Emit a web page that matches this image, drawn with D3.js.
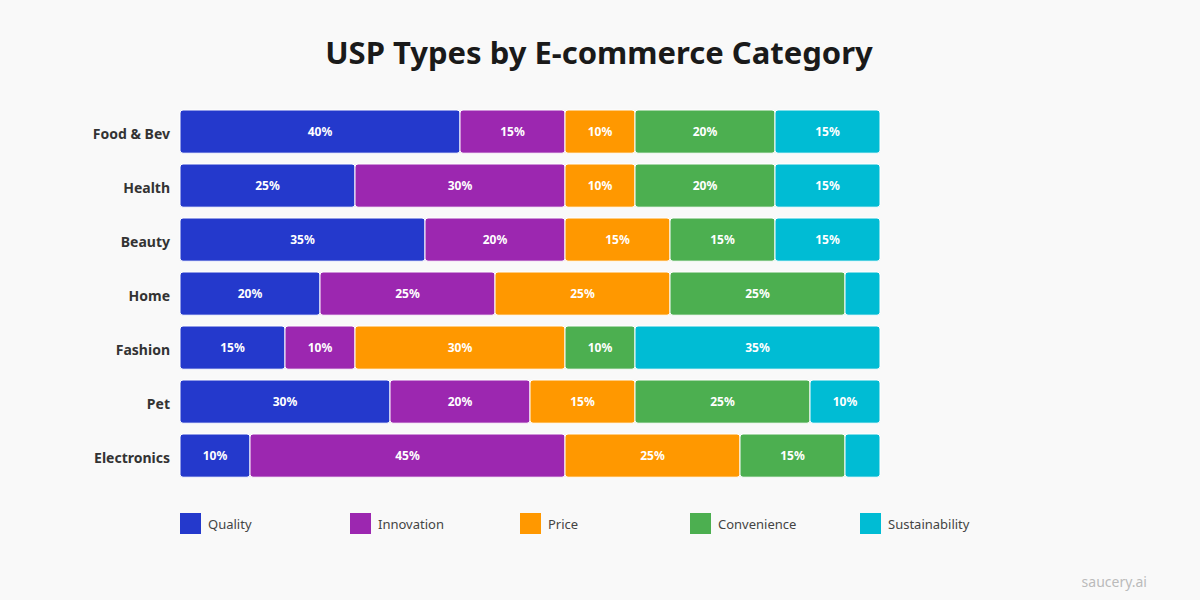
<!DOCTYPE html>
<html lang="en">
<head>
<meta charset="UTF-8">
<title>USP Types by E-commerce Category</title>
<script src="https://d3js.org/d3.v7.min.js"></script>
<style>
  body { margin: 0; background: #f9f9f9; }
  svg { display: block; font-family: "Noto Sans", "Open Sans", sans-serif; }
</style>
</head>
<body>
<svg width="1200" height="600"></svg>
<script>
const categories = ["Food & Bev", "Health", "Beauty", "Home", "Fashion", "Pet", "Electronics"];
const uspTypes = ["Quality", "Innovation", "Price", "Convenience", "Sustainability"];
const quality        = [40, 25, 35, 20, 15, 30, 10];
const innovation     = [15, 30, 20, 25, 10, 20, 45];
const price          = [10, 10, 15, 25, 30, 15, 25];
const convenience    = [20, 20, 15, 25, 10, 25, 15];
const sustainability = [15, 15, 15,  5, 35, 10,  5];
const colors = ["#2439cc", "#9c27b0", "#ff9800", "#4caf50", "#00bcd4"];

const series = [quality, innovation, price, convenience, sustainability];
const table = categories.map((c, i) => {
  const row = { category: c };
  uspTypes.forEach((t, j) => row[t] = series[j][i]);
  return row;
});

const svg = d3.select("svg");
svg.append("rect").attr("width", 1200).attr("height", 600).attr("fill", "#f9f9f9");

svg.append("text")
   .attr("x", 599).attr("y", 64)
   .attr("text-anchor", "middle")
   .attr("font-size", 31).attr("font-weight", 700)
   .attr("fill", "#1a1a1a")
   .text("USP Types by E-commerce Category");

const x = d3.scaleLinear().domain([0, 100]).range([180, 880]);
const y = d3.scaleBand().domain(categories).range([104.6, 482.6])
            .paddingInner(0.2).paddingOuter(0.1);
const color = d3.scaleOrdinal().domain(uspTypes).range(colors);

const stacked = d3.stack().keys(uspTypes)(table);

const layers = svg.append("g").selectAll("g")
  .data(stacked).enter().append("g")
  .attr("fill", d => color(d.key));

layers.selectAll("rect")
  .data(d => d).enter().append("rect")
  .attr("x", d => x(d[0]))
  .attr("y", d => y(d.data.category))
  .attr("width", d => x(d[1]) - x(d[0]))
  .attr("height", y.bandwidth())
  .attr("rx", 3)
  .attr("stroke", "#ffffff").attr("stroke-width", 1);

layers.selectAll("text")
  .data(d => d.filter(p => p[1] - p[0] >= 10)).enter().append("text")
  .attr("x", d => (x(d[0]) + x(d[1])) / 2)
  .attr("y", d => y(d.data.category) + y.bandwidth() / 2)
  .attr("dy", "0.35em")
  .attr("text-anchor", "middle")
  .attr("font-size", 12).attr("font-weight", 700)
  .attr("fill", "#ffffff")
  .text(d => (d[1] - d[0]) + "%");

const yAxis = svg.append("g")
  .attr("transform", "translate(180,0)")
  .call(d3.axisLeft(y).tickSize(0).tickPadding(10));
yAxis.select(".domain").remove();
yAxis.selectAll("text")
  .attr("font-family", "Noto Sans, Open Sans, sans-serif")
  .attr("font-size", 14).attr("font-weight", 700)
  .attr("dy", "0.5em")
  .attr("fill", "#333333");

const legend = svg.append("g").selectAll("g")
  .data(uspTypes).enter().append("g")
  .attr("transform", (d, i) => `translate(${180 + i * 170},513)`);
legend.append("rect").attr("width", 21).attr("height", 21)
  .attr("fill", d => color(d));
legend.append("text").attr("x", 28).attr("y", 11).attr("dy", "0.38em")
  .attr("font-size", 13).attr("fill", "#444444")
  .text(d => d);

svg.append("text")
   .attr("x", 1147).attr("y", 587)
   .attr("text-anchor", "end")
   .attr("font-size", 14).attr("fill", "#bbbbbb")
   .text("saucery.ai");
</script>
</body>
</html>
